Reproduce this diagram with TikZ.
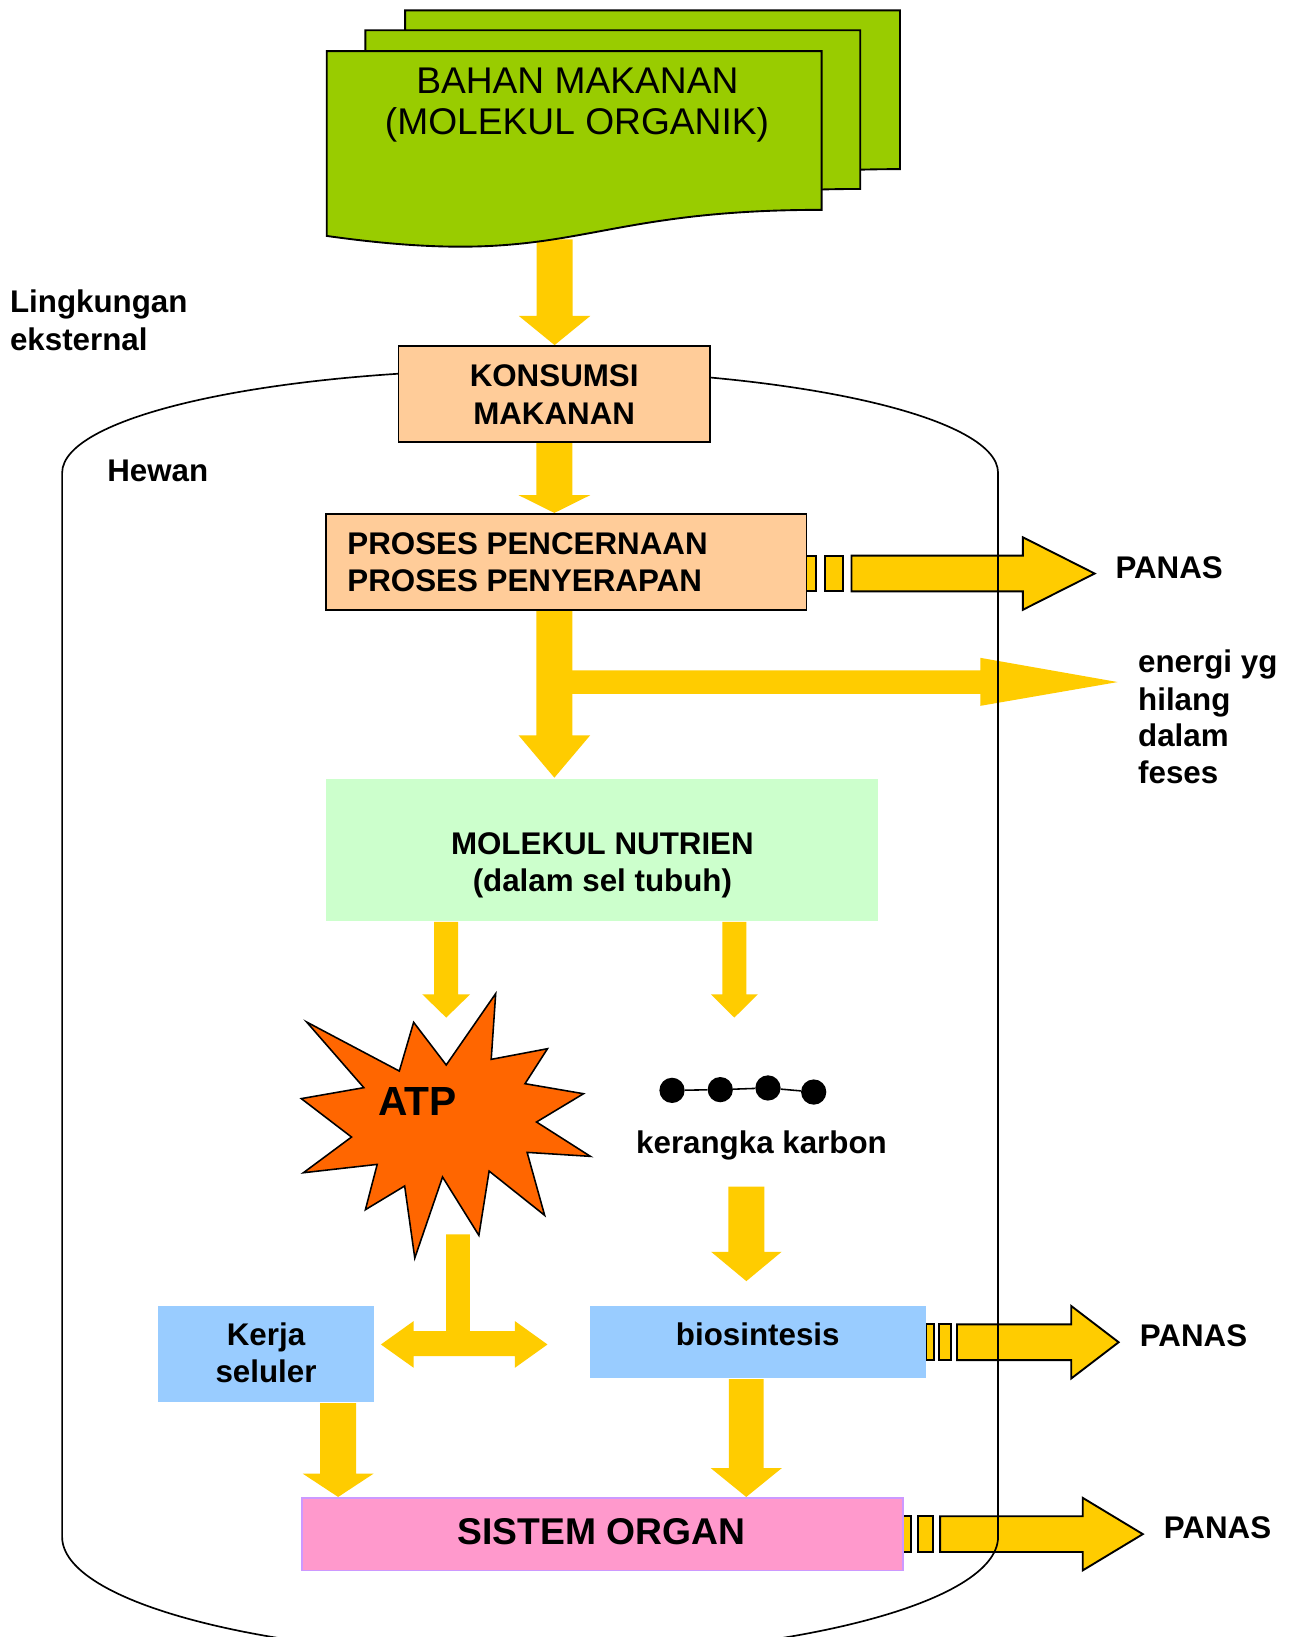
\documentclass[tikz,border=0pt]{standalone}
\usepackage{fontspec}
\setmainfont{Liberation Sans}
\usetikzlibrary{calc}
\definecolor{docgreen}{HTML}{99CC00}
\definecolor{peach}{HTML}{FFCC99}
\definecolor{mint}{HTML}{CCFFCC}
\definecolor{skyb}{HTML}{99CCFF}
\definecolor{pinkbox}{HTML}{FF99CC}
\definecolor{lilac}{HTML}{CC99FF}
\definecolor{gold}{HTML}{FFCC00}
\definecolor{orangeatp}{HTML}{FF6600}
\pgfdeclarelayer{bgw}
\pgfdeclarelayer{arr}
\pgfdeclarelayer{outl}
\pgfsetlayers{bgw,arr,outl,main}
% #1 x, #2 top coord, #3 tip coord, #4 half shaft, #5 half head, #6 head length
\newcommand\arrdown[6]{%
  \fill[yel] let \p1=(#2), \p2=(#3) in
    (#1pt-#4pt,\y1) -- (#1pt+#4pt,\y1) -- (#1pt+#4pt,\y2+#6pt) -- (#1pt+#5pt,\y2+#6pt)
    -- (#1pt,\y2) -- (#1pt-#5pt,\y2+#6pt) -- (#1pt-#4pt,\y2+#6pt) -- cycle;}
% #1 start coord, #2 s1 end, #3 s2 start, #4 s2 end, #5 shaft start, #6 head base, #7 tip
\newcommand\heatarrow[7]{%
  \filldraw[heat] let \p1=(#1) in (\x1-1pt,\y1-17.1pt) rectangle (\x1+#2pt,\y1+17.1pt);
  \filldraw[heat] let \p1=(#1) in (\x1+#3pt,\y1-17.1pt) rectangle (\x1+#4pt,\y1+17.1pt);
  \filldraw[heat] let \p1=(#1) in (\x1+#5pt,\y1-17.1pt) -- (\x1+#6pt,\y1-17.1pt)
    -- (\x1+#6pt,\y1-34.7pt) -- (\x1+#7pt,\y1) -- (\x1+#6pt,\y1+34.7pt)
    -- (\x1+#6pt,\y1+17.1pt) -- (\x1+#5pt,\y1+17.1pt) -- cycle;}
\newcommand\docpage[1]{%
  \filldraw[docst, shift={#1}] (313,49) -- (787,49) -- (787,201)
    .. controls (550,201) and (550,259.3) .. (313,226) -- cycle;}
\begin{document}
\begin{tikzpicture}[x=1pt,y=-1pt,
  box/.style={rectangle, inner sep=0pt, line width=1.8pt},
  lbl/.style={inner sep=0pt, font=\bfseries\fontsize{30}{36}\selectfont},
  dot/.style={circle, fill=black, inner sep=0pt, minimum size=24.2pt},
  yel/.style={fill=gold},
  heat/.style={fill=gold, draw=black, line width=1.8pt, line join=miter},
  outl/.style={draw=black, line width=1.6pt},
  docst/.style={fill=docgreen, draw=black, line width=1.8pt, line join=miter}]
\useasboundingbox (0,0) rectangle (1237,1568);
\begin{pgfonlayer}{bgw}
\fill[white] (0,0) rectangle (1237,1568);
\end{pgfonlayer}

% document stack
\docpage{(75,-39)}
\docpage{(37,-20)}
\docpage{(0,0)}
\node[minimum width=474pt, minimum height=180pt, inner sep=0pt] (bahan) at (550,139) {};
\node[font=\fontsize{35.6}{42}\selectfont, inner sep=0pt, anchor=base] (bahanA) at (553,89.4) {BAHAN MAKANAN};
\node[font=\fontsize{35.6}{42}\selectfont, inner sep=0pt, anchor=base] (bahanB) at (552.7,129.3) {(MOLEKUL ORGANIK)};

% boxes
\node[box, draw=black, fill=peach, minimum width=298.2pt, minimum height=91.7pt] (konsumsi) at (530.8,377.3) {};
\node[box, draw=black, fill=peach, minimum width=460.1pt, minimum height=92.3pt] (proses) at (542.45,538.35) {};
\node[box, fill=mint, minimum width=528.9pt, minimum height=136.2pt] (molekul) at (576.75,813.9) {};
\node[box, fill=skyb, minimum width=206.9pt, minimum height=91.7pt] (kerja) at (254.75,1297.15) {};
\node[box, fill=skyb, minimum width=321.4pt, minimum height=68.7pt] (bio) at (726.2,1285.65) {};
\node[box, draw=lilac, fill=pinkbox, line width=1.5pt, minimum width=575.8pt, minimum height=69.7pt] (sistem) at (577,1469.45) {};

% ATP star
\filldraw[fill=orangeatp, draw=black, line width=1.5pt, line join=miter]
 (474.8,951.7) -- (470.5,1014.7) -- (524.4,1004.5) -- (502.9,1038.0) -- (558.9,1047.6)
 -- (513.9,1074.7) -- (565.5,1107.6) -- (504.9,1103.8) -- (521.7,1164.1) -- (468.5,1121.7)
 -- (458.7,1183.3) -- (423.9,1127.4) -- (397.3,1205.0) -- (387.6,1136.0) -- (350.0,1158.7)
 -- (361.3,1115.3) -- (290.6,1123.3) -- (336.7,1089.1) -- (288.6,1052.3) -- (348.5,1041.8)
 -- (293.7,978.9) -- (382.5,1025.9) -- (396.2,979.2) -- (427.4,1020.1) -- cycle;
\node[inner sep=0pt, font=\bfseries\fontsize{39}{46}\selectfont, anchor=base] (atptext) at (400,1068.3) {ATP};

% carbon chain
\node[dot] (c1) at (643.7,1044.4) {};
\node[dot] (c2) at (689.9,1043.7) {};
\node[dot] (c3) at (735.6,1042.1) {};
\node[dot] (c4) at (779.4,1046.0) {};
\draw[line width=1.5pt] (c1) -- (c2) -- (c3) -- (c4);

% labels
\node[lbl, anchor=base] (konsA) at (530.8,370.5) {KONSUMSI};
\node[lbl, anchor=base] (konsB) at (530.8,406.3) {MAKANAN};
\node[lbl, anchor=base west] (prosA) at (332.6,530.8) {PROSES PENCERNAAN};
\node[lbl, anchor=base west] (prosB) at (332.6,567) {PROSES PENYERAPAN};
\node[lbl, anchor=base west] (panasA) at (1068.3,554) {PANAS};
\node[lbl, anchor=base west] (enA) at (1090,644.5) {energi yg};
\node[lbl, anchor=base west] (enB) at (1090,680.3) {hilang};
\node[lbl, anchor=base west] (enC) at (1090,715.4) {dalam};
\node[lbl, anchor=base west] (enD) at (1090,750.5) {feses};
\node[lbl, anchor=base west] (lingA) at (9.4,299.6) {Lingkungan};
\node[lbl, anchor=base west] (lingB) at (9.4,335.3) {eksternal};
\node[lbl, anchor=base west] (hewan) at (102.6,461.5) {Hewan};
\node[lbl, anchor=base] (molA) at (577,818) {MOLEKUL NUTRIEN};
\node[lbl, anchor=base] (molB) at (577,854) {(dalam sel tubuh)};
\node[lbl, anchor=base] (kerangka) at (729.4,1105) {kerangka karbon};
\node[lbl, anchor=base] (kerjaA) at (254.8,1288.7) {Kerja};
\node[lbl, anchor=base] (kerjaB) at (254.8,1323.8) {seluler};
\node[lbl, anchor=base] (bioT) at (725.8,1288.7) {biosintesis};
\node[inner sep=0pt, font=\bfseries\fontsize{35.7}{42}\selectfont, anchor=base] (sistemT) at (576.3,1479.4) {SISTEM ORGAN};
\node[lbl, anchor=base west] (panasB) at (1091.6,1289.3) {PANAS};
\node[lbl, anchor=base west] (panasC) at (1114.6,1474) {PANAS};

% free arrow ends
\coordinate (atpin) at (427.4,974.7);
\coordinate (chainin) at (703.4,974.7);
\coordinate (fesesend) at (1070.6,653.3);

% yellow arrows
\begin{pgfonlayer}{arr}
\arrdown{531.2}{bahan.south}{konsumsi.north}{17.3}{34.3}{28}
\arrdown{531}{konsumsi.south}{proses.north}{17.3}{34.3}{17}
\arrdown{531}{proses.south}{molekul.north}{17.3}{34.3}{40.6}
\fill[yel] (540,642) -- (939,642) -- (939,630.1) -- (fesesend) -- (939,676.1) -- (939,664.6) -- (540,664.6) -- cycle;
\arrdown{427.4}{molekul.south}{atpin}{11.5}{22.9}{22.3}
\arrdown{703.4}{molekul.south}{chainin}{11.5}{22.5}{22.3}
\fill[yel] (427.4,1182.3) -- (450.1,1182.3) -- (450.1,1275) -- (493.2,1275) -- (493.2,1265.4)
  -- (524.4,1287.8) -- (493.2,1310.1) -- (493.2,1299) -- (396.2,1299) -- (396.2,1310.1)
  -- (364.9,1287.8) -- (396.2,1265.4) -- (396.2,1275) -- (427.4,1275) -- cycle;
\arrdown{714.9}{$(kerangka.south)+(0,25)$}{$(bio.north)+(0,-23.3)$}{17.2}{33.8}{28.1}
\arrdown{323.9}{kerja.south}{sistem.north}{17.2}{33.9}{22.3}
\arrdown{714.8}{bio.south}{sistem.north}{16.7}{34.1}{27.7}
\heatarrow{$(proses.east)+(0,11)$}{8.1}{16.5}{34.1}{42.2}{206.4}{275.1}
\heatarrow{bio.east}{6.4}{11.5}{23.3}{28.8}{138.3}{183.7}
\heatarrow{sistem.east}{7}{13.4}{28.4}{34.8}{171.5}{229}
\end{pgfonlayer}

% animal outline
\begin{pgfonlayer}{outl}
\draw[outl] (59.5,453) .. controls (59.5,398.3) and (260.2,354) .. (507.75,354)
  .. controls (755.3,354) and (956,398.3) .. (956,453) -- (956,1472)
  .. controls (956,1535.5) and (755.3,1587) .. (507.75,1587)
  .. controls (260.2,1587) and (59.5,1535.5) .. (59.5,1472) -- cycle;
\end{pgfonlayer}
\end{tikzpicture}
\end{document}
